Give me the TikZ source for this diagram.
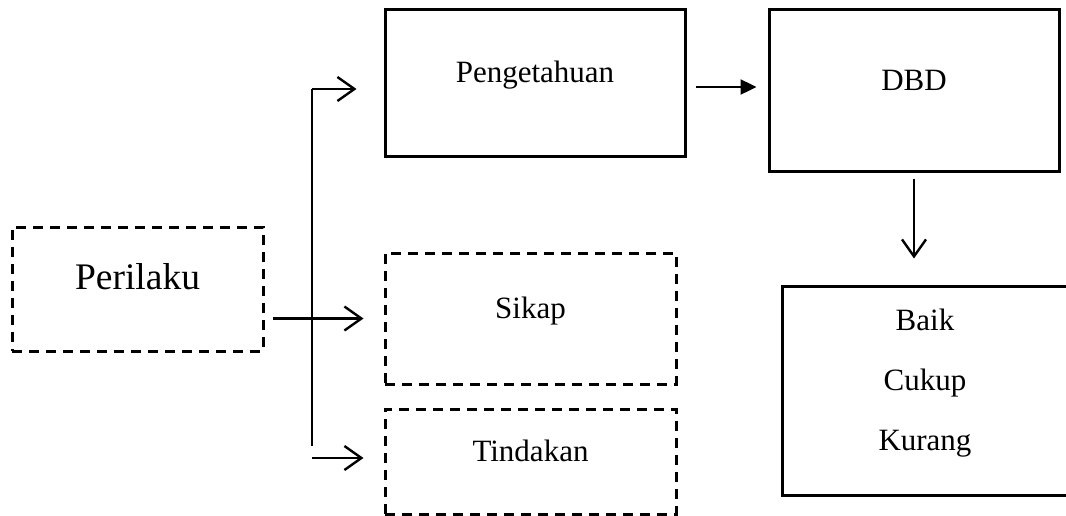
\documentclass[tikz,border=0pt]{standalone}
\usepackage{fontspec}
\setmainfont{Liberation Serif}
\usepackage{tikz}
\usetikzlibrary{positioning}
\usetikzlibrary{arrows.meta}

\begin{document}
\begin{tikzpicture}[
  solidbox/.style={rectangle, draw=black, line width=3pt, inner sep=0pt, font=\fontsize{31}{37}\selectfont, text height=21pt, text depth=21pt},
  dashbox/.style={solidbox, dash pattern=on 10pt off 7pt},
  barbarrow/.style={line width=2.4pt, -{Straight Barb[length=17pt, width=24pt]}},
  tiparrow/.style={line width=2.4pt, -{Triangle[length=16pt, width=15pt]}}
]
\useasboundingbox (0pt, 0pt) rectangle (1066pt, -515pt);
\node (perilaku) [dashbox, minimum width=251pt, minimum height=124pt, font=\fontsize{37.5}{45}\selectfont, text height=26pt, text depth=26pt] at (137.5pt, -289pt) {Perilaku};
\node (peng) [solidbox, minimum width=300pt, minimum height=147pt] at (535pt, -82.5pt) {Pengetahuan};
\node (dbd) [solidbox, minimum width=290pt, minimum height=162pt] at (914pt, -90pt) {DBD};
\node (sikap) [dashbox, minimum width=291pt, minimum height=131pt] at (530.5pt, -318.5pt) {Sikap};
\node (tindakan) [dashbox, minimum width=291pt, minimum height=105pt] at (530.5pt, -461.5pt) {Tindakan};
\node (hasil) [solidbox, minimum width=286pt, minimum height=209pt, align=center, font=\fontsize{31}{60}\selectfont, text height=141pt, text depth=21pt] at (925pt, -390.5pt) {Baik\\Cukup\\Kurang};
\coordinate (fork) at (312pt, -89pt);
\coordinate (forkend) at (312pt, -446pt);
\coordinate (forkfoot) at (312pt, -458pt);
\draw [line width=1.8pt] (fork) -- (forkend);
\draw [barbarrow, shorten >=27pt] (fork) -- (fork -| peng.west);
\draw [barbarrow, shorten <=8pt, shorten >=20pt] (perilaku.east |- sikap.west) -- (sikap.west);
\draw [barbarrow, shorten >=20pt] (forkfoot) -- (forkfoot -| tindakan.west);
\draw [tiparrow, shorten <=9pt, shorten >=11pt] ([yshift=-4.5pt]peng.east) -- ([yshift=-4.5pt]peng.east -| dbd.west);
\draw [barbarrow, shorten <=6pt, shorten >=26pt] (dbd.south) -- (dbd.south |- hasil.north);
\end{tikzpicture}
\end{document}
